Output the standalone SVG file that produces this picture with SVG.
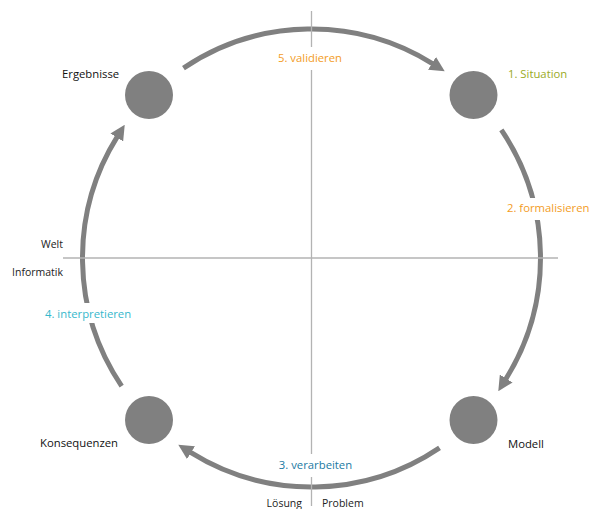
<svg xmlns="http://www.w3.org/2000/svg" width="591" height="509" viewBox="0 0 591 509">
  <style>
    .arc { fill: none; stroke: #808080; stroke-width: 5; }
    .axis { stroke: #b3b3b3; stroke-width: 1.3; }
    .node { fill: #808080; }
    .lbl { font-family: "Open Sans", "Noto Sans", sans-serif; font-size: 11.3px; }
    .name { fill: #111111; }
    .small { fill: #222222; font-size: 10.5px; }
    .bg { fill: #ffffff; }
  </style>
  <defs>
    <marker id="head" markerUnits="userSpaceOnUse" markerWidth="15" markerHeight="15" viewBox="0 0 15 15" refX="1" refY="7.5" orient="auto">
      <path d="M0,0 L15,7.5 L0,15 z" fill="#808080"/>
    </marker>
  </defs>

  <!-- cycle arcs -->
  <g id="connectors">
    <path class="arc" d="M183.45,68.16 A229,229 0 0 1 432.85,63.81" marker-end="url(#head)"/>
    <path class="arc" d="M501.34,129.95 A229,229 0 0 1 505.69,379.35" marker-end="url(#head)"/>
    <path class="arc" d="M439.55,447.84 A229,229 0 0 1 190.15,452.19" marker-end="url(#head)"/>
    <path class="arc" d="M121.66,386.05 A229,229 0 0 1 117.31,136.65" marker-end="url(#head)"/>
  </g>

  <!-- quadrant axes -->
  <g id="axes">
    <line class="axis" x1="311.5" y1="11" x2="311.5" y2="506"/>
    <line class="axis" x1="63" y1="258" x2="558" y2="258"/>
  </g>

  <!-- step labels on white backing -->
  <g id="steps">
    <rect class="bg" x="272" y="47" width="78" height="23"/>
    <text class="lbl" x="310" y="62" text-anchor="middle" fill="#f39c1e">5. validieren</text>
    <rect class="bg" x="505" y="198" width="86" height="22"/>
    <text class="lbl" x="507" y="212" fill="#f39c1e">2. formalisieren</text>
    <rect class="bg" x="272" y="454" width="88" height="23"/>
    <text class="lbl" x="315.5" y="469" text-anchor="middle" fill="#1b7aa3">3. verarbeiten</text>
    <rect class="bg" x="42" y="303" width="98" height="20"/>
    <text class="lbl" x="45" y="318" fill="#35b8cc">4. interpretieren</text>
  </g>

  <g id="situation">
    <circle class="node" cx="473.5" cy="95" r="24"/>
    <text class="lbl" x="508" y="78" fill="#9aaa1e">1. Situation</text>
  </g>
  <g id="modell">
    <circle class="node" cx="473.5" cy="420" r="24"/>
    <text class="lbl name" x="508" y="448">Modell</text>
  </g>
  <g id="konsequenzen">
    <circle class="node" cx="149" cy="420" r="24"/>
    <text class="lbl name" x="40" y="447">Konsequenzen</text>
  </g>
  <g id="ergebnisse">
    <circle class="node" cx="149" cy="95" r="24"/>
    <text class="lbl name" x="62" y="78">Ergebnisse</text>
  </g>

  <!-- quadrant names -->
  <g id="quadrants">
    <text class="lbl small" x="63" y="248" text-anchor="end">Welt</text>
    <text class="lbl small" x="63" y="276" text-anchor="end">Informatik</text>
    <text class="lbl small" x="302" y="507" text-anchor="end">Lösung</text>
    <text class="lbl small" x="322" y="507">Problem</text>
  </g>
</svg>
